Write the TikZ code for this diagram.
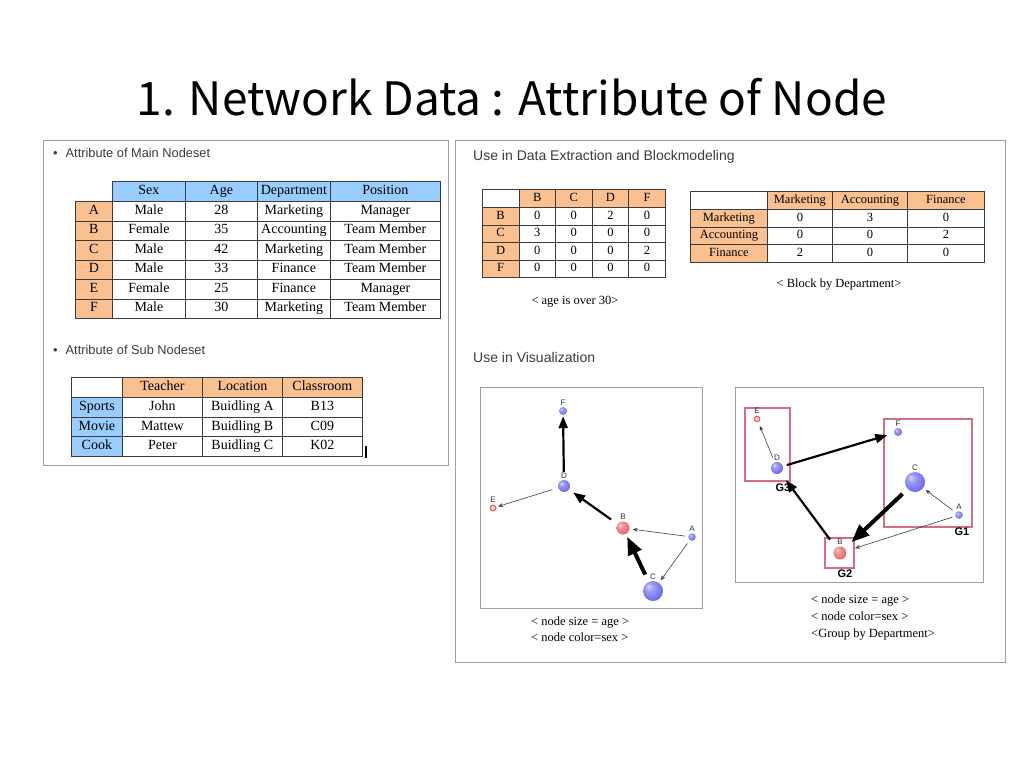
\documentclass[tikz,border=0pt]{standalone}
\usepackage{fontspec}
\setmainfont{Liberation Serif}
\setsansfont{Liberation Sans}
\newfontfamily\titlefont{Noto Sans CJK KR}
\usetikzlibrary{positioning, arrows.meta, shapes.geometric}
\usepackage{xcolor}
\definecolor{hdrblue}{RGB}{153,204,255}
\definecolor{hdrorange}{RGB}{250,192,144}
\definecolor{panelgray}{RGB}{160,160,160}
\definecolor{gridline}{RGB}{60,60,60}
\definecolor{grouppink}{RGB}{214,110,130}
\definecolor{nodeblue}{RGB}{105,105,240}
\definecolor{nodered}{RGB}{240,95,95}
\definecolor{headgray}{RGB}{60,60,60}
\pgfdeclareradialshading{blueball}{\pgfpoint{-12bp}{12bp}}{color(0bp)=(white!75!nodeblue); color(10bp)=(nodeblue!65!white); color(30bp)=(nodeblue); color(50bp)=(nodeblue!80!black)}
\pgfdeclareradialshading{redball}{\pgfpoint{-12bp}{12bp}}{color(0bp)=(white!75!nodered); color(10bp)=(nodered!65!white); color(30bp)=(nodered); color(50bp)=(nodered!80!black)}

\begin{document}
\begin{tikzpicture}[
    x=1pt, y=-1pt,
    panel/.style={draw=panelgray, line width=1pt},
    cell/.style={draw=gridline, line width=0.8pt, anchor=north west, inner sep=0pt, text height=9.5, text depth=3, font=\fontsize{14}{14}\selectfont},
    smallcell/.style={cell, text height=8.5, text depth=2.7, font=\fontsize{12.5}{12.5}\selectfont},
    heading/.style={anchor=west, inner sep=0pt, text=headgray, font=\sffamily\fontsize{12.8}{12.8}\selectfont},
    bigheading/.style={heading, font=\sffamily\fontsize{14}{14}\selectfont},
    caption/.style={inner sep=0pt, anchor=base, font=\fontsize{12.5}{12.5}\selectfont},
    ball/.style={circle, inner sep=0pt, shading=blueball},
    redball/.style={circle, inner sep=0pt, shading=redball},
    ring/.style={circle, inner sep=0pt, minimum size=5.5, draw=nodered, line width=1.2pt, fill=nodered!25!white},
    lbl/.style={inner sep=0pt, label distance=1.5pt, text=black!80, font=\sffamily\fontsize{8}{8}\selectfont},
    thinedge/.style={-{Stealth[length=5, width=4]}, line width=0.6pt, draw=black!75},
    boldedge/.style={-{Triangle[length=12, width=9]}, line width=2.2pt},
    heavyedge/.style={-{Triangle[length=18, width=14]}, line width=4pt},
    group/.style={draw=grouppink, line width=1.2pt},
    glabel/.style={inner sep=0pt, font=\sffamily\bfseries\fontsize{11}{11}\selectfont}
]
\useasboundingbox[fill=white] (0,0) rectangle (1024,768);

% Title
\node[font=\titlefont\fontsize{46}{46}\selectfont] (title) at (512,97) {1. Network Data : Attribute of Node};

% Left panel
\draw[panel] (43,140) rectangle (448,465);
\node[heading] (mainhead) at (53,153) {\textbullet\hspace{8pt}Attribute of Main Nodeset};

% Main nodeset table
\foreach \txt/\xx/\ww [count=\j] in {Sex/112/73, Age/185/72, Department/257/73, Position/330/110}
  \node[cell, fill=hdrblue, minimum width=\ww, minimum height=20] (mh\j) at (\xx,181) {\txt};
\foreach \rowname/\sexval/\ageval/\deptval/\posval [count=\i] in {A/Male/28/Marketing/Manager, B/Female/35/Accounting/Team Member, C/Male/42/Marketing/Team Member, D/Male/33/Finance/Team Member, E/Female/25/Finance/Manager, F/Male/30/Marketing/Team Member}{
  \node[cell, fill=hdrorange, minimum width=37, minimum height=19.5] (mr\i) at (75,{201+19.5*(\i-1)}) {\rowname};
  \node[cell, minimum width=73, minimum height=19.5] (ms\i) at (112,{201+19.5*(\i-1)}) {\sexval};
  \node[cell, minimum width=72, minimum height=19.5] (ma\i) at (185,{201+19.5*(\i-1)}) {\ageval};
  \node[cell, minimum width=73, minimum height=19.5] (md\i) at (257,{201+19.5*(\i-1)}) {\deptval};
  \node[cell, minimum width=110, minimum height=19.5] (mp\i) at (330,{201+19.5*(\i-1)}) {\posval};
}

\node[heading] (subhead) at (53,350) {\textbullet\hspace{8pt}Attribute of Sub Nodeset};

% Sub nodeset table
\node[cell, minimum width=51, minimum height=20] (sc0) at (71,377) {};
\foreach \txt/\xx [count=\j] in {Teacher/122, Location/202, Classroom/282}
  \node[cell, fill=hdrorange, minimum width=80, minimum height=20] (sh\j) at (\xx,377) {\txt};
\foreach \rowname/\teachval/\placeval/\roomval [count=\i] in {Sports/John/Buidling A/B13, Movie/Mattew/Buidling B/C09, Cook/Peter/Buidling C/K02}{
  \node[cell, fill=hdrblue, minimum width=51, minimum height=19.7] (sr\i) at (71,{397+19.7*(\i-1)}) {\rowname};
  \node[cell, minimum width=80, minimum height=19.7] (st\i) at (122,{397+19.7*(\i-1)}) {\teachval};
  \node[cell, minimum width=80, minimum height=19.7] (sl\i) at (202,{397+19.7*(\i-1)}) {\placeval};
  \node[cell, minimum width=80, minimum height=19.7] (sk\i) at (282,{397+19.7*(\i-1)}) {\roomval};
}
\draw[line width=1.8pt] (366,446) -- (366,458);

% Right panel
\draw[panel] (455,140) rectangle (1005,662);
\node[bigheading] (extracthead) at (473,157) {Use in Data Extraction and Blockmodeling};

% Age over 30 table
\node[smallcell, minimum width=36.5, minimum height=18] (ac0) at (482,189) {};
\foreach \txt [count=\j] in {B,C,D,F}
  \node[smallcell, fill=hdrorange, minimum width=36.6, minimum height=18] (ah\j) at ({518.5+36.6*(\j-1)},189) {\txt};
\foreach \rowname/\valA/\valB/\valC/\valD [count=\i] in {B/0/0/2/0, C/3/0/0/0, D/0/0/0/2, F/0/0/0/0}{
  \node[smallcell, fill=hdrorange, minimum width=36.5, minimum height=17.5] (ar\i) at (482,{207+17.5*(\i-1)}) {\rowname};
  \node[smallcell, minimum width=36.6, minimum height=17.5] (av\i a) at (518.5,{207+17.5*(\i-1)}) {\valA};
  \node[smallcell, minimum width=36.6, minimum height=17.5] (av\i b) at (555.1,{207+17.5*(\i-1)}) {\valB};
  \node[smallcell, minimum width=36.6, minimum height=17.5] (av\i c) at (591.7,{207+17.5*(\i-1)}) {\valC};
  \node[smallcell, minimum width=36.6, minimum height=17.5] (av\i d) at (628.3,{207+17.5*(\i-1)}) {\valD};
}
\node[caption] (agecap) at (575,304) {< age is over 30>};

% Block by department table
\node[smallcell, minimum width=77, minimum height=18] (bc0) at (690,191) {};
\foreach \txt/\xx/\ww [count=\j] in {Marketing/767/65, Accounting/832/75, Finance/907/77}
  \node[smallcell, fill=hdrorange, minimum width=\ww, minimum height=18] (bh\j) at (\xx,191) {\txt};
\foreach \rowname/\valA/\valB/\valC [count=\i] in {Marketing/0/3/0, Accounting/0/0/2, Finance/2/0/0}{
  \node[smallcell, fill=hdrorange, minimum width=77, minimum height=17.7] (br\i) at (690,{209+17.7*(\i-1)}) {\rowname};
  \node[smallcell, minimum width=65, minimum height=17.7] (bv\i a) at (767,{209+17.7*(\i-1)}) {\valA};
  \node[smallcell, minimum width=75, minimum height=17.7] (bv\i b) at (832,{209+17.7*(\i-1)}) {\valB};
  \node[smallcell, minimum width=77, minimum height=17.7] (bv\i c) at (907,{209+17.7*(\i-1)}) {\valC};
}
\node[caption] (blockcap) at (839,287) {< Block by Department>};

\node[bigheading] (vishead) at (473,357) {Use in Visualization};

% Graph: node size and colour
\draw[draw=panelgray, line width=0.9pt] (480,387) rectangle (702,608);
\node[ball, minimum size=8, label={[lbl]above:F}] (lF) at (563,411) {};
\node[ball, minimum size=12, label={[lbl]above:D}] (lD) at (564,486) {};
\node[ring, label={[lbl]above:E}] (lE) at (493,508) {};
\node[redball, minimum size=13, label={[lbl]above:B}] (lB) at (623,528) {};
\node[ball, minimum size=7.5, label={[lbl]above:A}] (lA) at (692,537) {};
\node[ball, minimum size=20, label={[lbl]above:C}] (lC) at (653,591) {};
\draw[boldedge, shorten <=8, shorten >=1] (lD) -- (lF);
\draw[thinedge, shorten <=6, shorten >=2] (lD) -- (lE);
\draw[boldedge, shorten <=8, shorten >=5] (lB) -- (lD);
\draw[thinedge, shorten <=3, shorten >=3] (lA) -- (lB);
\draw[thinedge, shorten <=4, shorten >=3] (lA) -- (lC);
\draw[heavyedge, shorten <=8, shorten >=3] (lC) -- (lB);
\node[caption, anchor=base west] (lcap1) at (531,625) {< node size = age >};
\node[caption, anchor=base west] (lcap2) at (531,641) {< node color=sex >};

% Graph: grouped by department
\draw[draw=panelgray, line width=0.9pt] (735,387) rectangle (983,582);
\draw[group] (745,408) rectangle (790,481);
\draw[group] (884,419) rectangle (972,527);
\draw[group] (825,538) rectangle (854,568);
\node[glabel] (g3) at (783,488) {G3};
\node[glabel] (g1) at (962,532) {G1};
\node[glabel] (g2) at (845,574) {G2};
\node[ring, label={[lbl]above:E}] (rE) at (757,419) {};
\node[ball, minimum size=12, label={[lbl]above:D}] (rD) at (777,468) {};
\node[ball, minimum size=8, label={[lbl]above:F}] (rF) at (898,432) {};
\node[ball, minimum size=20, label={[lbl]above:C}] (rC) at (915,482) {};
\node[ball, minimum size=7.5, label={[lbl]above:A}] (rA) at (959,515) {};
\node[redball, minimum size=13, label={[lbl]above:B}] (rB) at (840,553) {};
\draw[thinedge, shorten <=5, shorten >=4] (rD) -- (rE);
\draw[boldedge, shorten <=4, shorten >=7] (rD) -- (rF);
\draw[boldedge, shorten <=10, shorten >=9] (rB) -- (rD);
\draw[heavyedge, shorten <=7, shorten >=9] (rC) -- (rB);
\draw[thinedge, shorten <=4, shorten >=3] (rA) -- (rC);
\draw[thinedge, shorten <=3, shorten >=9] (rA) -- (rB);
\node[caption, anchor=base west] (rcap1) at (811,603) {< node size = age >};
\node[caption, anchor=base west] (rcap2) at (811,620) {< node color=sex >};
\node[caption, anchor=base west] (rcap3) at (811,637) {<Group by Department>};

\end{tikzpicture}
\end{document}
